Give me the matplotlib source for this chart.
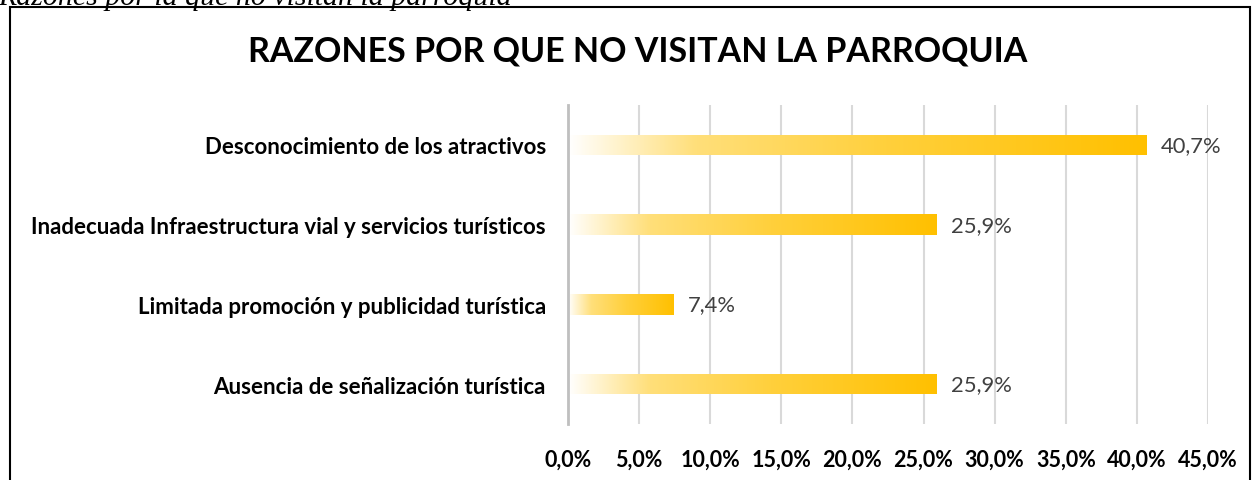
import matplotlib
matplotlib.use('Agg')
import matplotlib.pyplot as plt
import numpy as np
from matplotlib.colors import LinearSegmentedColormap
from matplotlib.patches import Rectangle

plt.rcParams['font.family'] = ['Lato', 'DejaVu Sans']

# ---- datos ----
CAPTION = 'Razones por la que no visitan la parroquia'
TITLE = 'RAZONES POR QUE NO VISITAN LA PARROQUIA'
CATEGORIES = [
    'Ausencia de señalización turística',
    'Limitada promoción y publicidad turística',
    'Inadecuada Infraestructura vial y servicios turísticos',
    'Desconocimiento de los atractivos',
]
VALUES = [25.9, 7.4, 25.9, 40.7]
X_TICKS = [0, 5, 10, 15, 20, 25, 30, 35, 40, 45]


def pct(v):
    return f'{v:.1f}%'.replace('.', ',')


W, H = 1258, 481
fig = plt.figure(figsize=(W / 100, H / 100), dpi=100)

# marco del gráfico
fig.patches.append(Rectangle((10 / W, -0.05), 1240 / W, 1.05 - 8 / H,
                             transform=fig.transFigure, fill=False,
                             edgecolor='black', linewidth=1.5))

# leyenda cortada arriba
fig.text(-2 / W, 1 - 5 / H, CAPTION, family='Liberation Serif', style='italic',
         fontsize=21.5, ha='left', va='baseline')

fig.text(638 / W, 1 - 52 / H, TITLE, fontsize=24.5, fontweight='bold',
         ha='center', va='center', color='black')

ax = fig.add_axes([568 / W, 56 / H, 640 / W, 319 / H])

gold = LinearSegmentedColormap.from_list(
    'gold', [(0.0, '#FFFFFF'), (0.22, '#FFDF7A'), (0.55, '#FFD03C'), (1.0, '#FFC000')])
grad = np.linspace(0, 1, 256).reshape(1, -1)

y = np.arange(len(CATEGORIES))
bars = ax.barh(y, VALUES, height=0.26, color='none', edgecolor='none', zorder=3)
for bar, v in zip(bars, VALUES):
    x0, y0 = bar.get_x(), bar.get_y()
    im = ax.imshow(grad, cmap=gold, aspect='auto', interpolation='bicubic',
                   extent=[x0, x0 + bar.get_width(), y0, y0 + bar.get_height()],
                   zorder=2)
    im.set_clip_path(bar)
    ax.text(v + 1.0, y0 + bar.get_height() / 2, pct(v), ha='left', va='center',
            fontsize=15.8, color='#404040')

ax.set_xlim(0, 45)
ax.set_ylim(-0.5, len(CATEGORIES) - 0.5)
ax.set_xticks(X_TICKS)
ax.set_xticklabels([pct(t) for t in X_TICKS], fontsize=15.5, fontweight='bold')
ax.set_yticks(y)
ax.set_yticklabels(CATEGORIES, fontsize=16, fontweight='bold')
ax.tick_params(axis='x', length=0, pad=18)
ax.tick_params(axis='y', length=0, pad=16)

ax.grid(axis='x', color='#D9D9D9', linewidth=1.5, zorder=0)
ax.set_axisbelow(True)
for s in ['top', 'right', 'bottom']:
    ax.spines[s].set_visible(False)
ax.spines['left'].set_color('#BFBFBF')
ax.spines['left'].set_linewidth(2.0)

fig.savefig('out.png', dpi=100)
